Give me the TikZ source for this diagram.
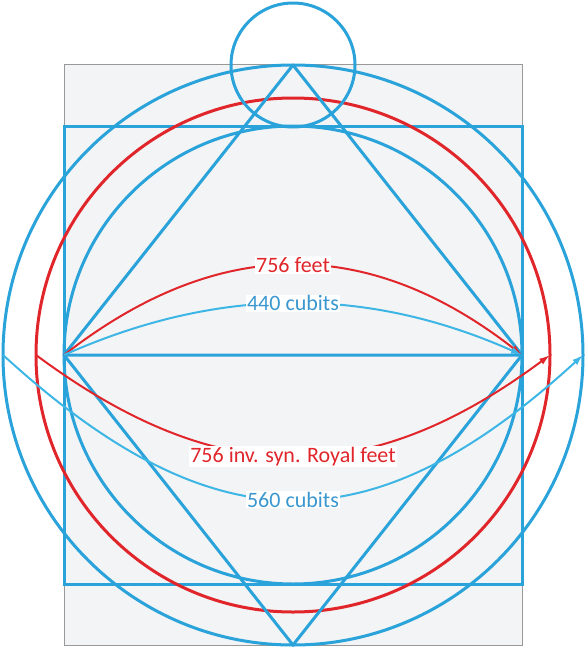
\documentclass[tikz,border=0pt]{standalone}
\usepackage{fontspec}
\setmainfont{Carlito}
\usepackage{tikz}
\usetikzlibrary{arrows.meta}
\usetikzlibrary{calc}
\definecolor{geoblue}{HTML}{2AA2DA}
\definecolor{arcblue}{HTML}{3DB6E6}
\definecolor{txtblue}{HTML}{3A97CF}
\definecolor{feetred}{HTML}{E0262B}
\definecolor{paper}{HTML}{F3F4F5}

\begin{document}
\begin{tikzpicture}[x=1pt,y=-1pt,
  geo/.style={
    draw=geoblue,line width=3pt},
  ring/.style={
    draw=#1,line width=3pt},
  span/.style={
    -{Latex[length=11pt,width=7pt]},
    draw=#1,line width=2pt},
  lbl/.style 2 args={
    fill=white,
    text=#1,
    inner sep=1pt,
    font=\fontsize{#2}{#2}\selectfont},
]

  \def\cx{293}%
  \def\cy{355}%
  \def\half{229}%

  \useasboundingbox (0,0) rectangle (588,651);

    % Background sheet
  \draw[draw=gray!80,fill=paper,line width=0.8pt] (64,64) rectangle (522,645);

    % Square and circles
  \draw[geo] (\cx-\half,\cy-\half) rectangle (\cx+\half,\cy+\half);
  \foreach \r/\col in {229/geoblue,257/feetred,290/geoblue} {
    \draw[ring=\col] (\cx,\cy) circle[radius=\r];
  }
  \draw[geo] (\cx,65) circle[radius=62];

    % Points
  \coordinate (west) at (\cx-\half,\cy);
  \coordinate (east) at (\cx+\half,\cy);
  \coordinate (apex) at (\cx,65);
  \coordinate (nadir) at (\cx,645);
  \coordinate (redW) at (\cx-257,\cy);
  \coordinate (redE) at (\cx+257,\cy);
  \coordinate (outW) at (\cx-290,\cy);
  \coordinate (outE) at (\cx+290,\cy);

    % Triangles
  \draw[geo,line join=round] (west) -- (apex) -- (east) -- cycle;
  \draw[geo,line join=round] (west) -- (nadir) -- (east);

    % Spans
  \draw[span=feetred] (west) .. controls +(154,-120) and +(-154,-120) ..
      node[pos=0.5,lbl={feetred}{22}] (feet) {756 feet} (east);
  \draw[span=arcblue] (west) .. controls +(155,-69) and +(-155,-69) ..
      node[pos=0.5,lbl={txtblue}{22}] (cubitsUp) {440 cubits} (east);
  \draw[span=feetred] (redW) .. controls +(182,135) and +(-182,135) ..
      node[pos=0.5,lbl={feetred}{22}] (royal) {756 inv. syn. Royal feet} (redE);
  \draw[span=arcblue] (outW) .. controls +(211,193) and +(-211,193) ..
      node[pos=0.5,lbl={txtblue}{22}] (cubitsDown) {560 cubits} (outE);

\end{tikzpicture}
\end{document}
